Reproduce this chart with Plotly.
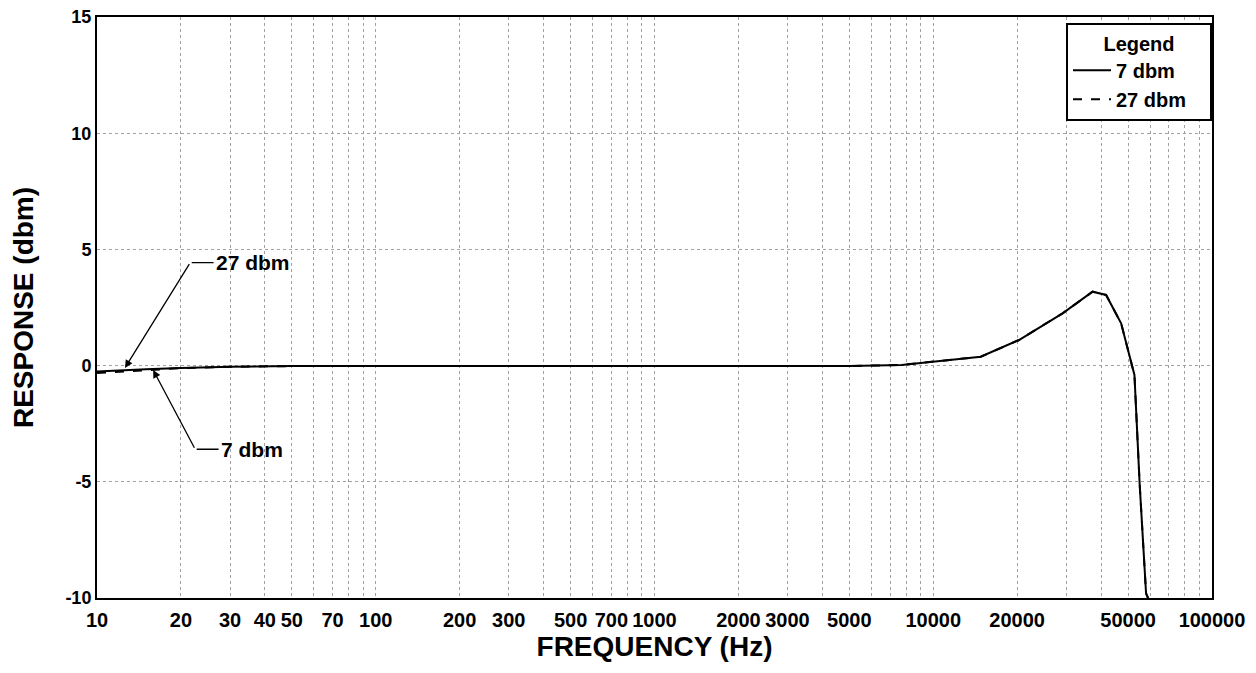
import math
import plotly.graph_objects as go

# ---- data ----
freq_hz = [10, 12, 15, 20, 30, 50, 100, 200, 500, 1000, 2000, 5000, 7700,
           10000, 12000, 14800, 20300, 29100, 37300, 41700, 47200, 52700,
           55000, 58000, 60400]
resp_7dbm = [-0.25, -0.22, -0.16, -0.10, -0.05, -0.02, -0.02, -0.02, -0.02,
             -0.02, -0.02, -0.02, 0.03, 0.17, 0.25, 0.38, 1.10, 2.25, 3.18,
             3.04, 1.82, -0.40, -5.07, -9.80, -10.3]
resp_27dbm = [-0.32, -0.26, -0.18, -0.11, -0.05, -0.02, -0.02, -0.02, -0.02,
              -0.02, -0.02, -0.02, 0.03, 0.17, 0.25, 0.38, 1.10, 2.25, 3.18,
              3.04, 1.82, -0.40, -5.07, -9.80, -10.3]

x_tick_vals = [10, 20, 30, 40, 50, 70, 100, 200, 300, 500, 700, 1000, 2000,
               3000, 5000, 10000, 20000, 50000, 100000]
x_tick_text = [str(v) for v in x_tick_vals]
x_grid_vals = [m * 10 ** d for d in range(1, 5) for m in range(1, 10)] + [100000]
y_tick_vals = [-10, -5, 0, 5, 10, 15]

# annotation anchors: (frequency, response)
ann_27 = dict(head=(12.6, -0.1), elbow=(21.6, 4.43), text_at=(26.2, 4.43), text="27 dbm")
ann_7 = dict(head=(15.9, -0.19), elbow=(22.5, -3.60), text_at=(27.3, -3.60), text="7 dbm")

FONT = "Liberation Sans, Arial, sans-serif"
GRID = "#a0a0a0"

fig = go.Figure()
fig.add_trace(go.Scatter(x=freq_hz, y=resp_7dbm, mode="lines", name="<b>7 dbm</b>",
                         line=dict(color="black", width=2)))
fig.add_trace(go.Scatter(x=freq_hz, y=resp_27dbm, mode="lines", name="<b>27 dbm</b>",
                         line=dict(color="black", width=2, dash="dash")))

annotations = []
for a in (ann_27, ann_7):
    lx = math.log10
    # diagonal arrow from elbow to the curve
    annotations.append(dict(x=lx(a["head"][0]), y=a["head"][1], xref="x", yref="y",
                            ax=lx(a["elbow"][0]), ay=a["elbow"][1], axref="x", ayref="y",
                            text="", showarrow=True, arrowhead=2, arrowsize=1.2,
                            arrowwidth=1.3, arrowcolor="black", standoff=0))
    # horizontal leader from elbow to text
    annotations.append(dict(x=lx(a["text_at"][0]), y=a["text_at"][1], xref="x", yref="y",
                            ax=lx(a["elbow"][0]), ay=a["elbow"][1], axref="x", ayref="y",
                            text="", showarrow=True, arrowhead=0, arrowwidth=1.3,
                            arrowcolor="black", standoff=0))
    annotations.append(dict(x=lx(a["text_at"][0]), y=a["text_at"][1], xref="x", yref="y",
                            text=f"<b>{a['text']}</b>", showarrow=False, xanchor="left",
                            yanchor="middle", xshift=0,
                            font=dict(family=FONT, size=21, color="black")))

pad = "&nbsp;" * 6
fig.update_layout(
    width=1248, height=665,
    margin=dict(l=89, r=44, t=9, b=75),
    paper_bgcolor="white", plot_bgcolor="white",
    font=dict(family=FONT, color="black"),
    annotations=annotations,
    showlegend=True,
    legend=dict(x=1, y=0.99, xanchor="right", yanchor="top",
                bgcolor="white", bordercolor="black", borderwidth=2,
                title=dict(text=f"{pad}<b>Legend</b>{pad}", side="top center",
                           font=dict(family=FONT, size=20)),
                font=dict(family=FONT, size=20),
                itemwidth=38, tracegroupgap=0),
)

fig.update_xaxes(
    type="log", range=[1, 5], automargin=False,
    tickvals=x_tick_vals, ticktext=[f"<b>{t}</b>" for t in x_tick_text],
    tickfont=dict(family=FONT, size=20, color="black"),
    ticklabeloverflow="allow",
    showgrid=True, gridcolor=GRID, griddash="dot", gridwidth=1,
    minor=dict(tickvals=x_grid_vals, showgrid=True, gridcolor=GRID,
               griddash="dot", gridwidth=1, ticks=""),
    showline=True, linecolor="black", linewidth=2, mirror=True,
    ticks="", ticklabelstandoff=3,
    title=dict(text="<b>FREQUENCY (Hz)</b>", font=dict(family=FONT, size=28),
               standoff=4),
    zeroline=False,
)
fig.update_yaxes(
    range=[-10, 15], tickvals=y_tick_vals, automargin=False,
    ticktext=[f"<b>{v}</b>" for v in y_tick_vals],
    tickfont=dict(family=FONT, size=18, color="black"),
    ticklabeloverflow="allow",
    showgrid=True, gridcolor=GRID, griddash="dot", gridwidth=1,
    showline=True, linecolor="black", linewidth=2, mirror=True,
    ticks="", ticklabelstandoff=0,
    title=dict(text="<b>RESPONSE (dbm)</b>", font=dict(family=FONT, size=28),
               standoff=25),
    zeroline=False,
)

fig.write_html("out.html")
